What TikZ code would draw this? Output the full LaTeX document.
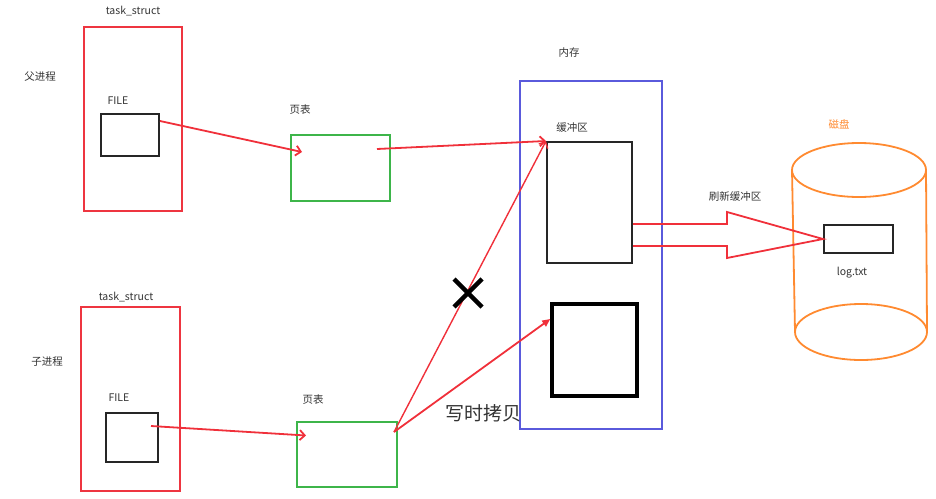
\documentclass[tikz,border=0pt]{standalone}
\usepackage{fontspec}
\setmainfont{Noto Sans CJK SC}
\usetikzlibrary{arrows.meta, positioning, calc}
\definecolor{structcol}{HTML}{EE3540}
\definecolor{tablecol} {HTML}{3DB54A}
\definecolor{memcol}   {HTML}{5A5ADC}
\definecolor{diskcol}  {HTML}{FF8A30}
\definecolor{linkcol}  {HTML}{F0303A}
\definecolor{txtcol}   {HTML}{333333}
\tikzset{
  tsbox/.style={rectangle, draw=structcol, line width=2pt, minimum width=98pt, minimum height=184pt, inner sep=0pt},
  filebox/.style={rectangle, draw=black!85, line width=2pt, inner sep=0pt},
  ptbox/.style={rectangle, draw=tablecol, line width=2pt, minimum width=99pt, minimum height=66pt, inner sep=0pt},
  membox/.style={rectangle, draw=memcol, line width=2pt, inner sep=0pt},
  bufbox/.style={rectangle, draw=black!85, line width=2pt, inner sep=0pt},
  lbl/.style={font=\fontsize{10.5}{12}\selectfont, text=txtcol, inner sep=1pt},
  link/.style={draw=linkcol, line width=1.8pt, -{Straight Barb[length=5pt, width=10pt]}},
  cowlink/.style={draw=linkcol, line width=1.8pt, -{Triangle[length=8pt, width=7pt]}},
  flush/.style={draw=linkcol, line width=1.8pt, line join=miter},
  disk/.style={draw=diskcol, line width=1.8pt},
}
\begin{document}
\begin{tikzpicture}[x=1pt, y=-1pt]
  \useasboundingbox (0,0) rectangle (936,498);
  % parent process
  \node[tsbox] (ts1) at (133, 119) {};
  \node[lbl] at (133, 11) {task\_struct};
  \node[lbl] at (40, 77) {父进程};
  \node[filebox, minimum width=58pt, minimum height=42pt] (file1) at (130, 135) {};
  \node[lbl] at (118, 101) {FILE};
  \node[ptbox] (pt1) at (340.5, 168) {};
  \node[lbl] at (300, 110) {页表};
  % child process
  \node[tsbox, minimum width=99pt] (ts2) at (130.5, 399) {};
  \node[lbl] at (126, 297) {task\_struct};
  \node[lbl] at (47, 362) {子进程};
  \node[filebox, minimum width=52pt, minimum height=49pt] (file2) at (132, 437.5) {};
  \node[lbl] at (119, 398) {FILE};
  \node[ptbox, minimum width=100pt, minimum height=65pt] (pt2) at (347, 454.5) {};
  \node[lbl] at (313, 400) {页表};
  % memory
  \node[membox, minimum width=142pt, minimum height=348pt] (mem) at (591, 255) {};
  \node[lbl] at (569, 53) {内存};
  \node[bufbox, minimum width=85pt, minimum height=121pt] (buf) at (589.5, 202.5) {};
  \node[lbl] at (572, 128) {缓冲区};
  \node[bufbox, line width=3.5pt, draw=black, minimum width=85pt, minimum height=92pt] (copy) at (594.5, 350) {};
  % disk
  \draw[disk] (859, 170) ellipse [x radius=67pt, y radius=27pt];
  \draw[disk] (861, 332) ellipse [x radius=66pt, y radius=28pt];
  \draw[disk] (792, 170) -- (795, 332);
  \draw[disk] (926, 170) -- (927, 332);
  \node[lbl, text=diskcol] at (839, 124) {磁盘};
  \node[filebox, minimum width=69pt, minimum height=28pt] (logbox) at (858.5, 239) {};
  \node[lbl] at (852, 273) {log.txt};
  % links
  \draw[link] ($(file1.north east)+(0,8)$) -- ($(pt1.west)+(12,-16)$);
  \draw[link] ($(pt1.north east)+(-14,15)$) -- (buf.north west);
  \draw[link] ($(file2.north east)+(-8,14)$) -- ($(pt2.west)+(10,-19)$);
  \draw[link, line width=1.4pt] ($(pt2.north east)+(-4,11)$) -- (buf.north west);
  \draw[cowlink] ($(pt2.north east)+(-4,11)$) -- ($(copy.west)+(0,-31)$);
  \node[font=\fontsize{19}{21}\selectfont, text=txtcol] at (483, 413) {写时拷贝};
  \draw[line width=4.5pt] (454, 279) -- (482, 307) (454, 307) -- (482, 279);
  % flush buffer
  \draw[flush] (buf.east |- 0, 224) -- (727, 224) -- (727, 212) -- (logbox.west)
    -- (727, 258) -- (727, 246) -- (buf.east |- 0, 246);
  \node[lbl] at (735, 197) {刷新缓冲区};
\end{tikzpicture}
\end{document}
